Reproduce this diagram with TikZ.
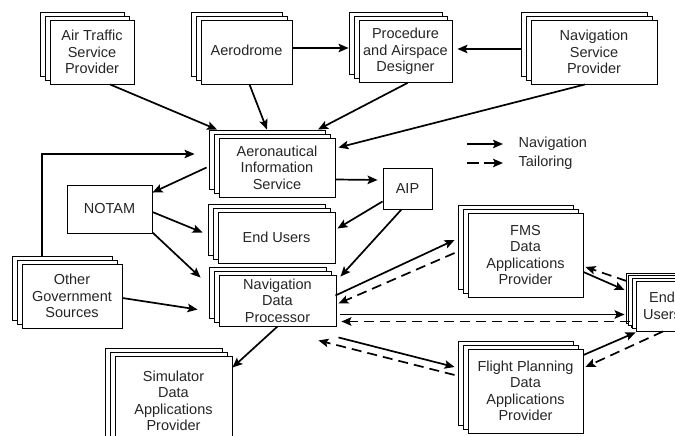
\documentclass[tikz,border=0pt]{standalone}
\usepackage{fontspec}
\setmainfont{Liberation Sans}
\usetikzlibrary{arrows.meta,shadows,calc}
\begin{document}
\begin{tikzpicture}[x=1pt,y=-1pt,
  txt/.style={font=\fontsize{14.5}{16.5}\selectfont, align=center, text=black!85},
  box/.style={txt, draw, line width=0.9pt, fill=white, inner sep=0pt},
  stack/.style={box, double copy shadow={shadow xshift=-5pt, shadow yshift=4pt, draw, line width=0.9pt, fill=white}},
  nav/.style={line width=1.7pt, -{Stealth[length=10pt,width=8.5pt,inset=2pt]}},
  tail/.style={nav, dash pattern=on 10pt off 6pt}]
\useasboundingbox (0,0) rectangle (675,436);

% boxes
\node[stack, minimum width=84pt, minimum height=64pt] (atsp) at (92,52) {Air Traffic\\Service\\Provider};
\node[stack, minimum width=91pt, minimum height=64pt] (aero) at (246.5,52) {\raisebox{4pt}{Aerodrome}};
\node[stack, minimum width=93pt, minimum height=62pt] (pad) at (405.5,51.5) {Procedure\\and Airspace\\Designer};
\node[stack, minimum width=126pt, minimum height=64pt] (nsp) at (594,52) {Navigation\\Service\\Provider};
\node[stack, minimum width=116pt, minimum height=59pt] (ais) at (277,167.5) {Aeronautical\\Information\\Service};
\node[stack, minimum width=117pt, minimum height=51pt] (eu) at (276.5,237.5) {End Users};
\node[stack, minimum width=117pt, minimum height=51pt] (ndp) at (277.5,300.5) {Navigation\\Data\\Processor};
\node[box, minimum width=85pt, minimum height=48pt] (notam) at (109.5,209) {NOTAM};
\node[box, minimum width=49pt, minimum height=41pt] (aip) at (407.5,188.5) {AIP};
\node[stack, minimum width=100pt, minimum height=64pt] (ogs) at (72,296) {Other\\Government\\Sources};
\node[stack, minimum width=117pt, minimum height=90pt] (sim) at (173.5,401) {Simulator\\Data\\Applications\\Provider};
\node[stack, minimum width=115pt, minimum height=84pt] (fms) at (525.5,255) {FMS\\Data\\Applications\\Provider};
\node[stack, minimum width=115pt, minimum height=84pt] (fp) at (525.5,391) {Flight Planning\\Data\\Applications\\Provider};
\node[stack, minimum width=52pt, minimum height=50pt, double copy shadow={shadow xshift=-4pt, shadow yshift=3pt, draw, line width=0.9pt, fill=white}] (eur) at (662,306) {End\\Users};

% legend
\node[txt, anchor=west] (legnav) at (515,144) {Navigation};
\node[txt, anchor=west] (legtail) at (515,163) {Tailoring};
\coordinate (ln) at (467,144);
\coordinate (lt) at (467,163);
\draw[nav] (ln) -- ($(legnav.west)+(-12,0)$);
\draw[tail, dash pattern=on 12pt off 5pt] (lt) -- ($(legtail.west)+(-12,0)$);

% navigation (solid) connectors
\draw[nav] ($(aero.east)+(0,-4)$) -- ($(pad.west)+(-10,-3.5)$);
\draw[nav] ($(nsp.west)+(-10,-3)$) -- ($(pad.east)+(5,-2.5)$);
\draw[nav] ($(atsp.south)+(18,0)$) -- ($(ais.north)+(-60,-8)$);
\draw[nav] ($(aero.south)+(3,0)$) -- ($(ais.north)+(-10,-8)$);
\draw[nav] ($(pad.south)+(2,0)$) -- ($(ais.north)+(41,-8)$);
\draw[nav] ($(nsp.south)+(-9,0)$) -- ($(ais.east)+(3,-20)$);
\draw[nav] ($(ogs.north)+(-30,-8)$) |- ($(ais.west)+(-24,-13.5)$);
\draw[nav] ($(ais.west)+(-12,0)$) -- ($(notam.north east)+(0,8)$);
\draw[nav] ($(ais.east)+(0,12)$) -- ($(aip.west)+(-5,-8.5)$);
\draw[nav] ($(notam.east)+(0,3)$) -- ($(eu.west)+(-15,-5)$);
\draw[nav] ($(notam.south east)+(0,-1)$) -- ($(ndp.north west)+(-18,3)$);
\draw[nav] ($(aip.south west)+(0,-8)$) -- ($(eu.east)+(2,-9)$);
\draw[nav] ($(aip.south)+(-6,0)$) -- ($(ndp.north east)+(4,2)$);
\draw[nav] ($(ogs.east)+(0,2)$) -- ($(ndp.west)+(-21,9)$);
\draw[nav] (ndp.south) -- ($(sim.north east)+(0,12)$);
\draw[nav] ($(ndp.east)+(-1,-5)$) -- ($(fms.west)+(-13,-15)$);
\draw[nav] ($(ndp.east)+(4,14)$) -- ($(eur.west)+(-11,8.5)$);
\draw[nav] ($(ndp.south east)+(2,11)$) -- ($(fp.west)+(-13,-24)$);
\draw[nav] ($(fms.east)+(0,17)$) -- ($(eur.west)+(-11,-16)$);
\draw[nav] ($(fp.east)+(0,-36)$) -- ($(eur.south west)+(0,1)$);

% tailoring (dashed) connectors
\draw[tail] ($(fms.west)+(-13,-2)$) -- ($(ndp.east)+(2,3)$);
\draw[tail] ($(eur.west)+(-6,15.5)$) -- ($(ndp.east)+(5,21)$);
\draw[tail] ($(fp.west)+(-13,-16)$) -- ($(ndp.south east)+(-18,14)$);
\draw[tail] ($(eur.west)+(-9,-25)$) -- ($(fms.east)+(2,12)$);
\draw[tail] ($(eur.south)+(1,0)$) -- ($(fp.east)+(2,-24)$);
\end{tikzpicture}
\end{document}
